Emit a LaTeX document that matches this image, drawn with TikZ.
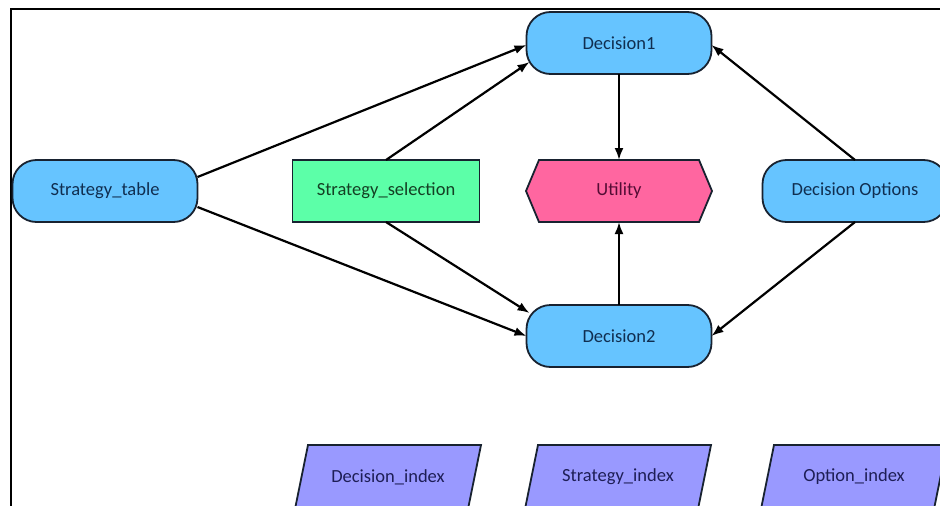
\documentclass[tikz,border=0pt]{standalone}
\usepackage{fontspec}
\setmainfont{Carlito}
\usetikzlibrary{arrows.meta,backgrounds}

\definecolor{edgecol}{RGB}{24,34,48}
\definecolor{decfill}{RGB}{102,196,255}
\definecolor{dectext}{RGB}{16,46,80}
\definecolor{selfill}{RGB}{92,255,168}
\definecolor{seltext}{RGB}{20,64,36}
\definecolor{utilfill}{RGB}{255,102,160}
\definecolor{utiltext}{RGB}{84,12,52}
\definecolor{idxfill}{RGB}{153,153,255}
\definecolor{idxtext}{RGB}{30,30,86}

\newcommand{\labelfont}{\fontsize{18.5}{22}\selectfont}

\tikzset{
  basenode/.style={inner sep=0pt, outer sep=0pt, font=\labelfont},
  decision/.style={basenode, draw=edgecol, fill=decfill, line width=1.8pt,
    rounded corners=24pt, minimum width=185pt, minimum height=62pt, text=dectext},
  selection/.style={basenode, draw=edgecol, fill=selfill, line width=1.8pt,
    minimum width=187pt, minimum height=62pt, text=seltext},
  utilbox/.style={basenode, minimum width=186pt, minimum height=62pt, text=utiltext},
  indexbox/.style={basenode, minimum width=186pt, minimum height=64pt, text=idxtext},
  shapeline/.style={draw=edgecol, line width=1.8pt},
  link/.style={line width=2.2pt, -{Latex[length=12pt,width=9pt]}},
}

\begin{document}
\begin{tikzpicture}[x=1pt,y=-1pt]
\clip (0,0) rectangle (940,506);
\begin{scope}[on background layer]
  \fill[white] (0,0) rectangle (940,506);
\end{scope}

% outer frame (only top and left edges fall inside the page)
\draw[line width=2.2pt] (11,540) |- (980,9);

% decision nodes
\node[decision] (d1) at (619,43) {Decision1};
\node[decision] (d2) at (619,336) {Decision2};
\node[decision] (st) at (105,191) {Strategy\_table};
\node[decision] (do) at (855,191) {Decision Options};

% selection node
\node[selection] (ss) at (386,191) {Strategy\_selection};

% utility (hexagon)
\node[utilbox] (u) at (619,191) {Utility};

% index nodes (parallelograms)
\node[indexbox] (p1) at (388,477) {Decision\_index};
\node[indexbox] (p2) at (618,477) {Strategy\_index};
\node[indexbox] (p3) at (854,477) {Option\_index};

\begin{scope}[on background layer]
  \path[shapeline, fill=utilfill]
    ([xshift=13pt]u.north west) -- ([xshift=-13pt]u.north east) -- (u.east)
    -- ([xshift=-13pt]u.south east) -- ([xshift=13pt]u.south west) -- (u.west) -- cycle;
  \foreach \p in {p1,p2,p3}{
    \path[shapeline, fill=idxfill]
      ([xshift=13pt]\p.north west) -- (\p.north east)
      -- ([xshift=-13pt]\p.south east) -- (\p.south west) -- cycle;
  }
\end{scope}

% connectors
\draw[link] ([yshift=14pt]st.east) -- ([yshift=-2pt]d1.west);
\draw[link] (ss.north) -- ([xshift=3pt,yshift=12pt]d1.south west);
\draw[link] ([yshift=-16pt]st.east) -- (d2.west);
\draw[link] (ss.south) -- ([xshift=3pt,yshift=-8pt]d2.north west);
\draw[link] (do.north) -- ([yshift=-2pt]d1.east);
\draw[link] (do.south) -- (d2.east);
\draw[link] (d1.south) -- (u.north);
\draw[link] (d2.north) -- (u.south);
\end{tikzpicture}
\end{document}
